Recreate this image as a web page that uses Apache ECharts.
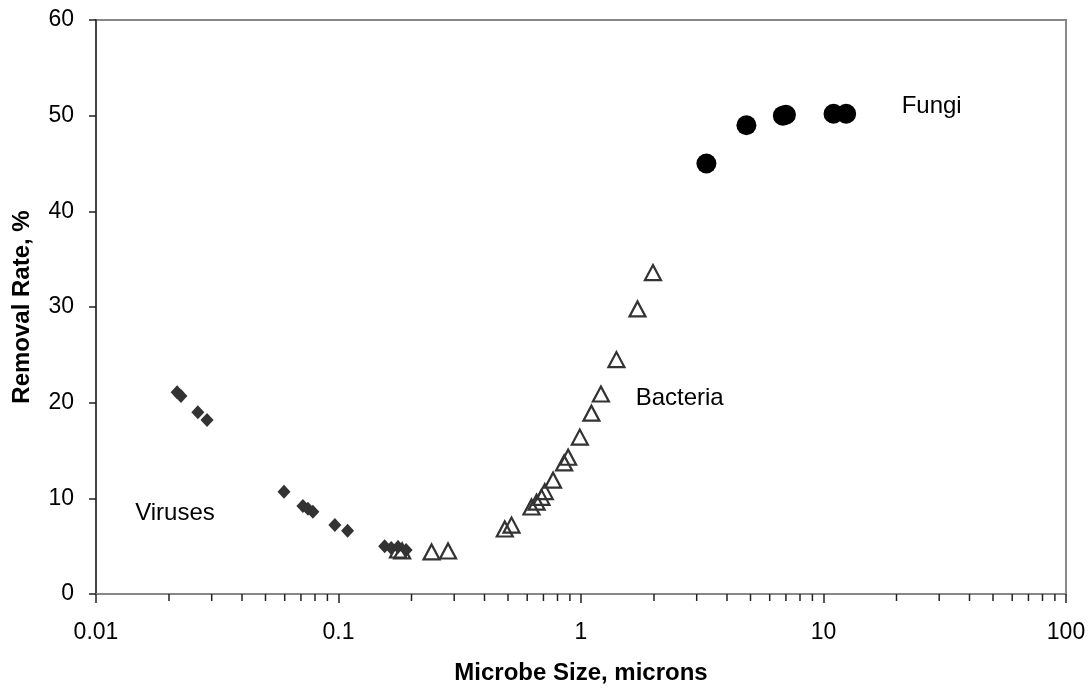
<!DOCTYPE html>
<html>
<head>
<meta charset="utf-8">
<script src="https://cdn.jsdelivr.net/npm/echarts@6/dist/echarts.min.js"></script>
<style>
html,body{margin:0;padding:0;background:#fff;}
#chart{width:1091px;height:690px;}
</style>
</head>
<body>
<div id="chart"></div>
<script>
// ---- data ----
const virusX = [0.0216, 0.0224, 0.0263, 0.0287, 0.0596, 0.0713, 0.0748, 0.0784, 0.0966, 0.109, 0.155, 0.165, 0.176, 0.19];
const virusY = [21.1, 20.7, 19.0, 18.2, 10.7, 9.2, 8.9, 8.6, 7.2, 6.6, 5.0, 4.8, 4.9, 4.6];
const bacteriaX = [0.176, 0.183, 0.242, 0.283, 0.485, 0.517, 0.625, 0.656, 0.687, 0.709, 0.767, 0.852, 0.885, 0.989, 1.104, 1.208, 1.40, 1.71, 1.98];
const bacteriaY = [4.6, 4.5, 4.4, 4.5, 6.8, 7.2, 9.1, 9.6, 10.1, 10.7, 11.9, 13.7, 14.3, 16.4, 18.9, 20.9, 24.5, 29.8, 33.6];
const fungiX = [3.29, 4.81, 6.8, 7.0, 11.0, 12.4];
const fungiY = [45.0, 49.0, 50.0, 50.1, 50.2, 50.2];
const groupLabels = ['Viruses', 'Bacteria', 'Fungi'];
const labelAnchorX = [0.0145, 1.68, 21.0];
const labelAnchorY = [8.4, 20.4, 51.0];
const xMin = 0.01, xMax = 100;
const yMin = 0, yMax = 60, yStep = 10;

const zip = (xs, ys) => xs.map((x, i) => [x, ys[i]]);

// minor tick positions (2..9 of each decade)
const minorTicks = [];
for (let d = xMin; d < xMax; d *= 10) {
  for (let k = 2; k <= 9; k++) minorTicks.push([+(d * k).toPrecision(3), 0]);
}

const font = 'Liberation Sans, Arial, sans-serif';
const chart = echarts.init(document.getElementById('chart'));
chart.setOption({
  animation: false,
  backgroundColor: '#fff',
  grid: { left: 96, right: 25, top: 20, bottom: 93, show: true, borderColor: '#888', borderWidth: 2, backgroundColor: 'transparent' },
  xAxis: {
    type: 'log', logBase: 10, min: xMin, max: xMax,
    name: 'Microbe Size, microns', nameLocation: 'middle', nameGap: 67,
    nameTextStyle: { fontFamily: font, fontSize: 24, fontWeight: 'bold', color: '#000' },
    axisLine: { lineStyle: { color: '#888', width: 2 } },
    axisTick: { show: true, length: 9, lineStyle: { color: '#222', width: 1.5 } },
    axisLabel: { margin: 27, fontFamily: font, fontSize: 23, color: '#000',
      formatter: v => String(+v.toPrecision(3)) },
    splitLine: { show: false }
  },
  yAxis: {
    type: 'value', min: yMin, max: yMax, interval: yStep,
    name: 'Removal Rate, %', nameLocation: 'middle', nameGap: 62, nameRotate: 90,
    nameTextStyle: { fontFamily: font, fontSize: 24, fontWeight: 'bold', color: '#000' },
    axisLine: { show: true, lineStyle: { color: '#444', width: 2 } },
    axisTick: { show: true, length: 7, lineStyle: { color: '#222', width: 1.5 } },
    axisLabel: { margin: 22, fontFamily: font, fontSize: 23, color: '#000' },
    splitLine: { show: false }
  },
  series: [
    {
      type: 'custom', name: 'minorTicks', silent: true, clip: false, z: 1,
      data: minorTicks,
      renderItem: (params, api) => {
        const p = api.coord([api.value(0), yMin]);
        return { type: 'line', shape: { x1: p[0], y1: p[1], x2: p[0], y2: p[1] + 7 },
          style: { stroke: '#222', lineWidth: 1.5 } };
      }
    },
    {
      type: 'scatter', name: 'Viruses', data: zip(virusX, virusY),
      symbol: 'diamond', symbolSize: [13, 14],
      itemStyle: { color: '#333', opacity: 1 }, z: 3
    },
    {
      type: 'scatter', name: 'Bacteria', data: zip(bacteriaX, bacteriaY),
      symbol: 'triangle', symbolSize: [16, 15],
      itemStyle: { color: 'rgba(0,0,0,0)', borderColor: '#333', borderWidth: 2.2, opacity: 1 }, z: 4
    },
    {
      type: 'scatter', name: 'Fungi', data: zip(fungiX, fungiY),
      symbol: 'circle', symbolSize: 20,
      itemStyle: { color: '#000', opacity: 1 }, z: 5
    },
    {
      type: 'scatter', name: 'labels', silent: true, symbolSize: 0,
      itemStyle: { opacity: 1 },
      data: groupLabels.map((t, i) => ({ value: [labelAnchorX[i], labelAnchorY[i]], name: t })),
      label: { show: true, position: 'right', distance: 0, formatter: p => p.name,
        fontFamily: font, fontSize: 24, color: '#000', opacity: 1 }
    }
  ]
});
</script>
</body>
</html>
